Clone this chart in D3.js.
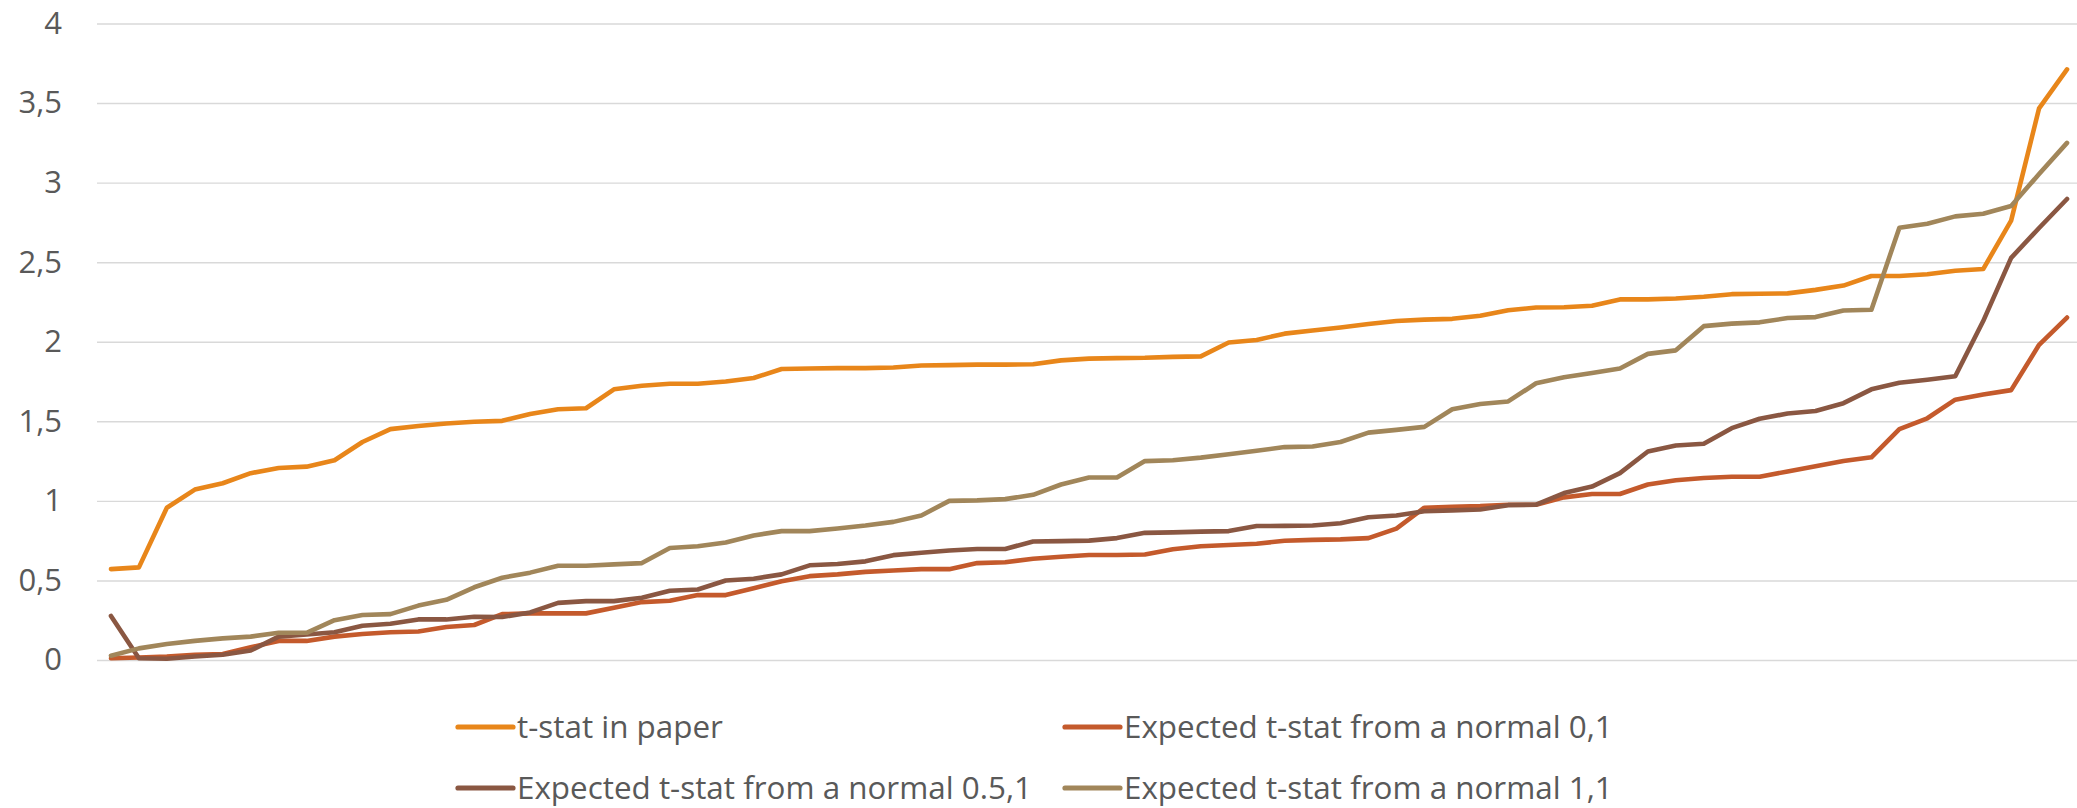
<!DOCTYPE html>
<html><head><meta charset="utf-8">
<script src="https://cdn.jsdelivr.net/npm/d3@7"></script>
<style>
html,body{margin:0;padding:0;background:#fff;}
svg{display:block;}
text{font-family:"Open Sans","Noto Sans",sans-serif;fill:#595959;}
</style></head><body>
<svg id="c" width="2077" height="808"></svg>
<script>
const tickValues = [0,0.5,1,1.5,2,2.5,3,3.5,4];
const tickLabels = ["0","0,5","1","1,5","2","2,5","3","3,5","4"];
const seriesNames = ["t-stat in paper","Expected t-stat from a normal 0,1","Expected t-stat from a normal 0.5,1","Expected t-stat from a normal 1,1"];
const seriesColors = ["#E8861A","#C45A2C","#8A5742","#A1865A"];
const tPaper = [0.571,0.582,0.957,1.071,1.111,1.174,1.207,1.215,1.255,1.370,
 1.451,1.470,1.486,1.497,1.503,1.546,1.576,1.582,1.701,1.723,
 1.736,1.736,1.750,1.772,1.829,1.832,1.834,1.834,1.838,1.851,
 1.853,1.856,1.856,1.859,1.883,1.894,1.897,1.899,1.905,1.908,
 1.995,2.011,2.051,2.071,2.090,2.111,2.130,2.139,2.144,2.163,
 2.198,2.215,2.217,2.226,2.266,2.266,2.272,2.283,2.299,2.302,
 2.304,2.326,2.353,2.413,2.413,2.424,2.446,2.457,2.761,3.467,3.712];
const tNormal01 = [0.011,0.016,0.022,0.033,0.038,0.08,0.12,0.12,0.147,0.163,
 0.174,0.179,0.207,0.22,0.288,0.293,0.293,0.293,0.329,0.364,
 0.372,0.408,0.408,0.451,0.495,0.527,0.538,0.554,0.562,0.571,
 0.571,0.609,0.614,0.636,0.649,0.660,0.660,0.663,0.696,0.715,
 0.723,0.731,0.749,0.755,0.758,0.766,0.826,0.957,0.962,0.967,
 0.976,0.976,1.022,1.043,1.043,1.103,1.130,1.144,1.152,1.152,
 1.185,1.217,1.25,1.274,1.451,1.519,1.636,1.668,1.696,1.981,2.152];
const tNormal051 = [0.277,0.011,0.008,0.022,0.033,0.06,0.147,0.16,0.174,0.215,
 0.228,0.255,0.255,0.272,0.27,0.299,0.359,0.370,0.370,0.391,
 0.435,0.443,0.5,0.511,0.538,0.595,0.603,0.620,0.659,0.674,
 0.688,0.698,0.698,0.745,0.747,0.750,0.766,0.799,0.802,0.807,
 0.810,0.842,0.843,0.845,0.859,0.897,0.908,0.935,0.940,0.946,
 0.973,0.976,1.049,1.090,1.174,1.310,1.348,1.359,1.457,1.516,
 1.549,1.565,1.614,1.701,1.742,1.761,1.783,2.13,2.527,2.715,2.897];
const tNormal11 = [0.027,0.073,0.101,0.12,0.136,0.147,0.171,0.171,0.25,0.283,
 0.288,0.342,0.378,0.457,0.517,0.549,0.592,0.592,0.601,0.609,
 0.704,0.715,0.739,0.783,0.810,0.810,0.826,0.845,0.868,0.908,
 1.0,1.003,1.011,1.038,1.103,1.147,1.147,1.25,1.255,1.272,
 1.293,1.315,1.338,1.342,1.370,1.429,1.446,1.465,1.576,1.609,
 1.625,1.739,1.777,1.804,1.832,1.924,1.946,2.098,2.114,2.122,
 2.149,2.155,2.196,2.201,2.717,2.742,2.788,2.804,2.853,3.054,3.25];
const categories = d3.range(1, tPaper.length + 1);

const series = [tPaper, tNormal01, tNormal051, tNormal11];
const svg = d3.select("#c");

const plotLeft = 97, plotRight = 2081;
const x = d3.scaleBand().domain(categories).range([plotLeft, plotRight]);
const y = d3.scaleLinear().domain([0,4]).range([660, 23.5]);

const yAxis = d3.axisLeft(y).tickValues(tickValues)
  .tickFormat((d,i)=>tickLabels[i]).tickSize(-(plotRight-plotLeft)).tickPadding(35);
const g = svg.append("g").attr("transform",`translate(${plotLeft},0)`).call(yAxis);
g.select(".domain").remove();
g.selectAll(".tick line").attr("stroke","#D9D9D9").attr("stroke-width",1.4);
g.selectAll(".tick text").attr("font-size",31).style("fill","#595959");

const line = d3.line().x((d,i)=>x(categories[i]) + x.bandwidth()/2).y(d=>y(d));
series.forEach((s,k)=>{
  svg.append("path").datum(s).attr("d",line).attr("fill","none")
    .attr("stroke",seriesColors[k]).attr("stroke-width",4.6)
    .attr("stroke-linejoin","round").attr("stroke-linecap","round");
});

const legPos = [[458,727],[1065,727],[458,788],[1065,788]];
seriesNames.forEach((n,k)=>{
  const [lx,ly] = legPos[k];
  svg.append("line").attr("x1",lx).attr("x2",lx+55).attr("y1",ly).attr("y2",ly)
    .attr("stroke",seriesColors[k]).attr("stroke-width",5.2).attr("stroke-linecap","round");
  svg.append("text").attr("x",lx+59).attr("y",ly).attr("dy","0.35em")
    .attr("font-size",31.4).text(n);
});
</script>
</body></html>
